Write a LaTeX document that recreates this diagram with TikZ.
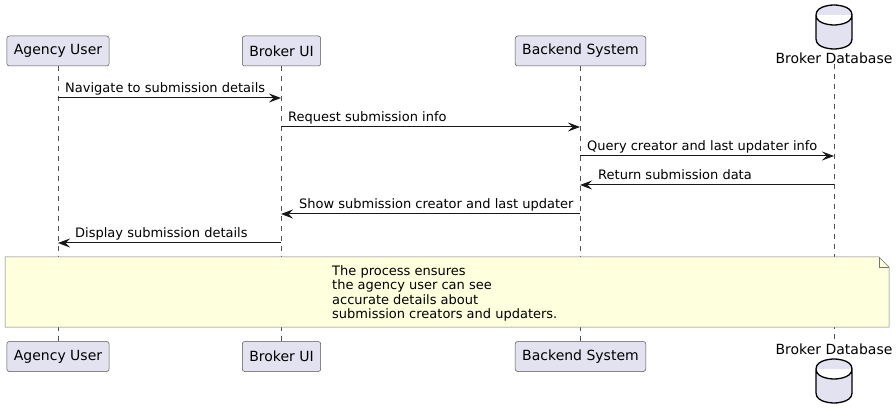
\documentclass[tikz,border=0pt]{standalone}
\usepackage{fontspec}
\setmainfont{DejaVu Sans}
\usetikzlibrary{arrows.meta}
\definecolor{partfill}{HTML}{E2E2F0}
\definecolor{notefill}{HTML}{FEFFDD}
\definecolor{umlline}{HTML}{181818}

\begin{document}
\begin{tikzpicture}[x=1pt, y=-1pt,
  participant/.style={draw=umlline!75, line width=0.5pt, fill=partfill,
    rounded corners=2.5pt, minimum height=30pt, inner xsep=7pt,
    font=\fontsize{14}{16}\selectfont},
  dblabel/.style={inner sep=0pt, font=\fontsize{14}{16}\selectfont},
  lifeline/.style={umlline!75, line width=0.5pt, dash pattern=on 5pt off 5pt},
  msg/.style={umlline, line width=1pt,
    -{Stealth[length=12pt, width=9pt, inset=4.5pt]}},
  msglabel/.style={anchor=base west, inner sep=0pt,
    font=\fontsize{13}{15}\selectfont}]
  \useasboundingbox (0,0) rectangle (896,419);

  % Participants, top row
  \node[participant] (auTop) at (58, 51)    {Agency User};
  \node[participant] (uiTop) at (281.5, 51) {Broker UI};
  \node[participant] (bsTop) at (580.5, 51) {Backend System};
  \node[dblabel]     (dbTop) at (834, 58)   {Broker Database};

  % Participants, bottom row
  \node[participant] (auBot) at (58, 356.5)    {Agency User};
  \node[participant] (uiBot) at (281.5, 356.5) {Broker UI};
  \node[participant] (bsBot) at (580.5, 356.5) {Backend System};
  \node[dblabel]     (dbBot) at (834, 349)     {Broker Database};

  % Database cylinders
  \foreach \y in {5, 359}
    \draw[line width=1.3pt, fill=partfill]
      (816, \y+10) .. controls (816, \y) and (834, \y) .. (834, \y)
      .. controls (834, \y) and (852, \y) .. (852, \y+10)
      -- (852, \y+34) .. controls (852, \y+44) and (834, \y+44) .. (834, \y+44)
      .. controls (834, \y+44) and (816, \y+44) .. (816, \y+34) -- cycle
      (816, \y+10) .. controls (816, \y+20) and (834, \y+20) .. (834, \y+20)
      .. controls (834, \y+20) and (852, \y+20) .. (852, \y+10);

  % Lifelines
  \draw[lifeline] (auTop.south) -- (auBot.north);
  \draw[lifeline] (uiTop.south) -- (uiBot.north);
  \draw[lifeline] (bsTop.south) -- (bsBot.north);
  \draw[lifeline] (dbTop.south) -- (dbBot.north);

  % Message points on the lifelines
  \foreach \p/\x in {au/58, ui/281, bs/580, db/834}
    \foreach \k/\y in {1/98, 2/127, 3/156, 4/185, 5/214, 6/243}
      \coordinate (\p\k) at (\x, \y);

  % Messages
  \draw[msg] (au1) -- (ui1);
  \node[msglabel] at ([shift={(7,-5)}]au1) {Navigate to submission details};
  \draw[msg] (ui2) -- (bs2);
  \node[msglabel] at ([shift={(7,-5)}]ui2) {Request submission info};
  \draw[msg] (bs3) -- (db3);
  \node[msglabel] at ([shift={(7,-5)}]bs3) {Query creator and last updater info};
  \draw[msg] (db4) -- (bs4);
  \node[msglabel] at ([shift={(18,-5)}]bs4) {Return submission data};
  \draw[msg] (bs5) -- (ui5);
  \node[msglabel] at ([shift={(18,-5)}]ui5) {Show submission creator and last updater};
  \draw[msg] (ui6) -- (au6);
  \node[msglabel] at ([shift={(17,-5)}]au6) {Display submission details};

  % Note across all participants
  \draw[umlline!60, line width=0.5pt, fill=notefill]
    (5,257) -- (879,257) -- (889,267) -- (889,327) -- (5,327) -- cycle;
  \draw[umlline!60, line width=0.5pt] (879,257) -- (879,267) -- (889,267);
  \node[anchor=north west, inner sep=0pt, align=left,
        font=\fontsize{13}{14.5}\selectfont] (notetext) at (332, 265)
    {The process ensures\\the agency user can see\\accurate details about\\submission creators and updaters.};
\end{tikzpicture}
\end{document}
